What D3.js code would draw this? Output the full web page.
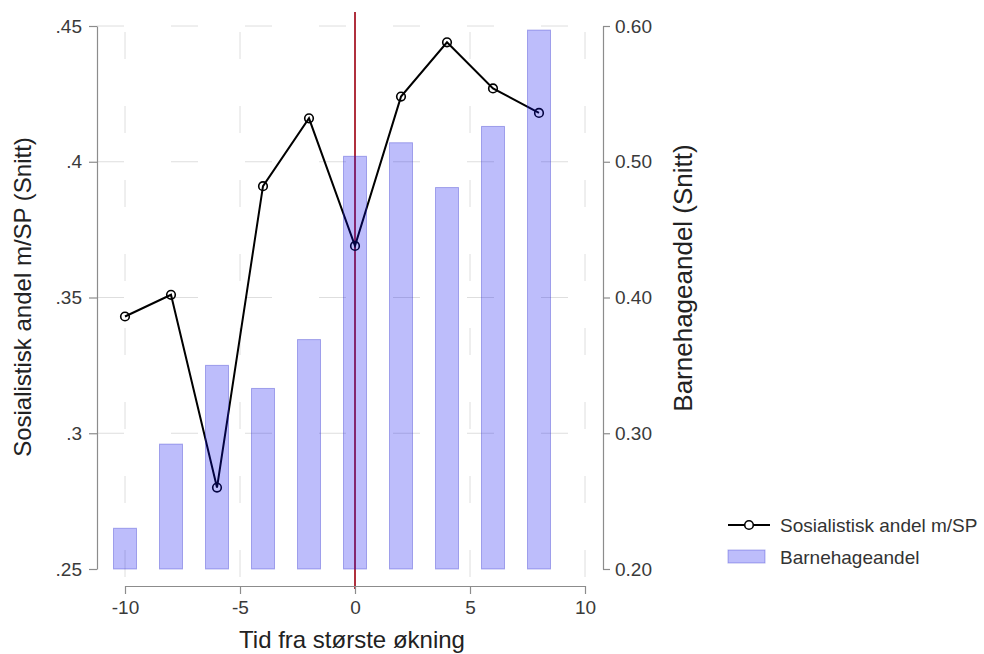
<!DOCTYPE html>
<html lang="no">
<head>
<meta charset="utf-8">
<title>Sosialistisk andel og barnehageandel</title>
<script src="https://cdn.jsdelivr.net/npm/d3@7"></script>
<style>
  body { margin: 0; background: #fff; }
  svg { font-family: "Liberation Sans", Arial, sans-serif; }
  .axis path, .axis line { stroke: #8c8c8c; stroke-width: 1.2px; }
  .axis text { fill: #3a3a3a; font-size: 19px; }
  .grid { stroke: #dedede; stroke-width: 1px; stroke-dasharray: 27 47; }
</style>
</head>
<body>
<script>
// tid fra største økning
var tid = [-10, -8, -6, -4, -2, 0, 2, 4, 6, 8];
// sosialistisk andel m/SP (snitt)
var sosialistisk = [0.343, 0.351, 0.280, 0.391, 0.416, 0.369, 0.424, 0.444, 0.427, 0.418];
// barnehageandel (snitt)
var barnehage = [0.230, 0.292, 0.350, 0.333, 0.369, 0.504, 0.514, 0.481, 0.526, 0.597];

var xTicks = [-10, -5, 0, 5, 10];
var yLeftTicks = [0.25, 0.30, 0.35, 0.40, 0.45];
var yRightTicks = [0.20, 0.30, 0.40, 0.50, 0.60];

var w = 984, h = 654;

var svg = d3.select("body").append("svg")
    .attr("width", w)
    .attr("height", h);

var x = d3.scaleLinear().domain([-10, 10]).range([125, 585]);
var yL = d3.scaleLinear().domain([0.25, 0.45]).range([569, 26]);
var yR = d3.scaleLinear().domain([0.20, 0.60]).range([569, 26]);

// grid
svg.append("g").selectAll("line")
    .data(yLeftTicks.slice(1))
    .enter().append("line")
    .attr("class", "grid")
    .attr("x1", 97).attr("x2", 603)
    .attr("y1", function(d) { return yL(d); })
    .attr("y2", function(d) { return yL(d); });

svg.append("g").selectAll("line")
    .data(xTicks.filter(function(d) { return d != 0; }))
    .enter().append("line")
    .attr("class", "grid")
    .attr("x1", function(d) { return x(d); })
    .attr("x2", function(d) { return x(d); })
    .attr("y1", 32).attr("y2", 586);

// red reference line at 0
svg.append("line")
    .attr("x1", x(0)).attr("x2", x(0))
    .attr("y1", 12).attr("y2", 589)
    .attr("stroke", "#b0303e")
    .attr("stroke-width", 2);

// line series
var line = d3.line()
    .x(function(d, i) { return x(tid[i]); })
    .y(function(d) { return yL(d); });

svg.append("path")
    .datum(sosialistisk)
    .attr("d", line)
    .attr("fill", "none")
    .attr("stroke", "#000")
    .attr("stroke-width", 2);

svg.append("g").selectAll("circle")
    .data(sosialistisk)
    .enter().append("circle")
    .attr("cx", function(d, i) { return x(tid[i]); })
    .attr("cy", function(d) { return yL(d); })
    .attr("r", 4.3)
    .attr("fill", "none")
    .attr("stroke", "#000")
    .attr("stroke-width", 1.6);

// bars (semi-transparent, drawn on top)
var barW = x(0.5) - x(-0.5);
svg.append("g").selectAll("rect")
    .data(barnehage)
    .enter().append("rect")
    .attr("x", function(d, i) { return x(tid[i]) - barW / 2; })
    .attr("y", function(d) { return yR(d); })
    .attr("width", barW)
    .attr("height", function(d) { return yR(0.20) - yR(d); })
    .attr("fill", "rgb(10,10,240)")
    .attr("fill-opacity", 0.27)
    .attr("stroke", "rgb(40,40,200)")
    .attr("stroke-opacity", 0.35)
    .attr("stroke-width", 1);

// axes
svg.append("g")
    .attr("class", "axis")
    .attr("transform", "translate(97,0)")
    .call(d3.axisLeft(yL).tickValues(yLeftTicks).tickSize(8).tickSizeOuter(0).tickPadding(7)
        .tickFormat(function(d) { return d3.format(".2~f")(d).replace(/^0/, ""); }));

svg.append("g")
    .attr("class", "axis")
    .attr("transform", "translate(603,0)")
    .call(d3.axisRight(yR).tickValues(yRightTicks).tickSize(7).tickSizeOuter(0).tickPadding(5)
        .tickFormat(d3.format(".2f")));

svg.append("g")
    .attr("class", "axis")
    .attr("transform", "translate(0,586)")
    .call(d3.axisBottom(x).tickValues(xTicks).tickSize(8).tickSizeOuter(0).tickPadding(7)
        .tickFormat(function(d) { return String(d); }));

// axis titles
svg.append("text")
    .attr("x", 352).attr("y", 648)
    .attr("text-anchor", "middle")
    .attr("font-size", "24px")
    .attr("fill", "#222")
    .text("Tid fra største økning");

svg.append("text")
    .attr("transform", "translate(31,297) rotate(-90)")
    .attr("text-anchor", "middle")
    .attr("font-size", "24px")
    .attr("fill", "#222")
    .text("Sosialistisk andel m/SP (Snitt)");

svg.append("text")
    .attr("transform", "translate(692,278) rotate(-90)")
    .attr("text-anchor", "middle")
    .attr("font-size", "26px")
    .attr("fill", "#222")
    .text("Barnehageandel (Snitt)");

// legend
var leg = svg.append("g");
leg.append("line")
    .attr("x1", 728).attr("x2", 770)
    .attr("y1", 525).attr("y2", 525)
    .attr("stroke", "#000").attr("stroke-width", 2);
leg.append("circle")
    .attr("cx", 749).attr("cy", 525).attr("r", 4.3)
    .attr("fill", "#fff").attr("stroke", "#000").attr("stroke-width", 1.6);
leg.append("text")
    .attr("x", 780).attr("y", 532)
    .attr("font-size", "19px").attr("fill", "#333")
    .text("Sosialistisk andel m/SP");
leg.append("rect")
    .attr("x", 728).attr("y", 550).attr("width", 37).attr("height", 13)
    .attr("fill", "rgb(10,10,240)").attr("fill-opacity", 0.27)
    .attr("stroke", "rgb(40,40,200)").attr("stroke-opacity", 0.35);
leg.append("text")
    .attr("x", 780).attr("y", 564)
    .attr("font-size", "19px").attr("fill", "#333")
    .text("Barnehageandel");
</script>
</body>
</html>
